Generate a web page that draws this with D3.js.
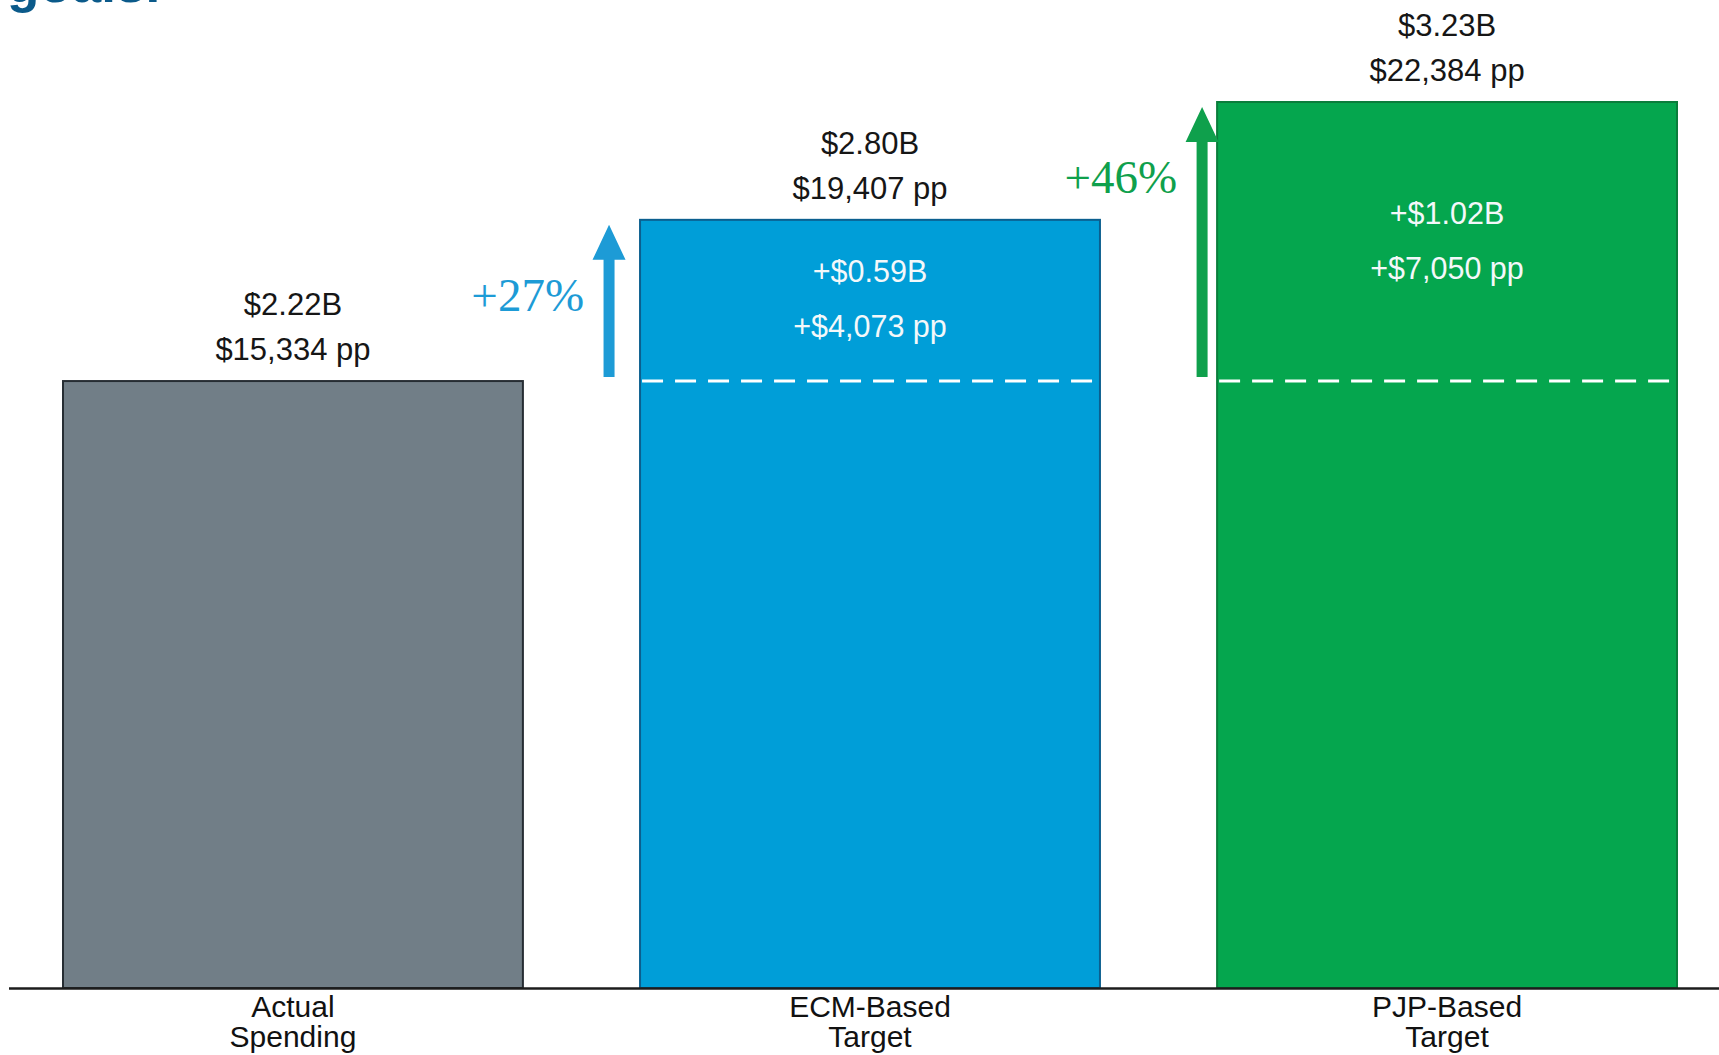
<!DOCTYPE html>
<html>
<head>
	<title>spending-targets</title>
	<script src="https://cdnjs.cloudflare.com/ajax/libs/d3/7.8.5/d3.min.js"></script>
	<style>
		body { margin:0; background:#fff; }
		svg { display:block; }
	</style>
</head>
<body>
	<svg width="1719" height="1055"></svg>
	<script type="text/javascript">

		// chart data
		var categories = ["Actual Spending", "ECM-Based Target", "PJP-Based Target"];
		var catLines = [["Actual", "Spending"], ["ECM-Based", "Target"], ["PJP-Based", "Target"]];
		var perPupil = [15334, 19407, 22384];
		var totalLabels = ["$2.22B", "$2.80B", "$3.23B"];
		var ppLabels = ["$15,334 pp", "$19,407 pp", "$22,384 pp"];
		var incTotalLabels = [null, "+$0.59B", "+$1.02B"];
		var incPpLabels = [null, "+$4,073 pp", "+$7,050 pp"];
		var pctLabels = [null, "+27%", "+46%"];

		var fills = ["#717e87", "#009ed8", "#05a64e"];
		var strokes = ["#262d33", "#0b5f8f", "#0a7d3b"];
		var accent = [null, "#1d9bd6", "#0fa04c"];
		var arrowGap = [0, 31, 15];

		var svg = d3.select("svg");
		var sans = "'Liberation Sans', Arial, sans-serif";
		var base = 988;

		var x = d3.scaleBand().domain(categories).range([63, 1677]).paddingInner(0.203).paddingOuter(0);
		var y = d3.scaleLinear().domain([0, d3.max(perPupil)]).range([base, 102]);

		var data = categories.map(function(c, i) {
			return {cat: c, i: i, pp: perPupil[i]};
		});

		// cut-off title
		svg.append("text")
			.attr("x", 7).attr("y", 2)
			.style("font-family", sans).style("font-weight", "bold")
			.style("font-size", "53px").style("fill", "#0b5a8a")
			.text("goals.");

		svg.selectAll("rect.bar")
			.data(data)
			.enter()
			.append("rect")
			.attr("class", "bar")
			.attr("x", function(d) {return x(d.cat)})
			.attr("y", function(d) {return y(d.pp)})
			.attr("width", x.bandwidth())
			.attr("height", function(d) {return base - y(d.pp)})
			.style("fill", function(d) {return fills[d.i]})
			.style("stroke", function(d) {return strokes[d.i]})
			.style("stroke-width", "2px")

		// dashed baseline inside target bars
		var targets = data.filter(function(d) {return d.i > 0});
		svg.selectAll("line.dash")
			.data(targets)
			.enter()
			.append("line")
			.attr("x1", function(d) {return x(d.cat) + 2})
			.attr("x2", function(d) {return x(d.cat) + x.bandwidth() - 1})
			.attr("y1", y(perPupil[0]))
			.attr("y2", y(perPupil[0]))
			.style("stroke", "#fff")
			.style("stroke-width", "3px")
			.style("stroke-dasharray", "21,12")

		// axis line
		svg.append("line")
			.attr("x1", 9).attr("x2", 1719)
			.attr("y1", base + 0.5).attr("y2", base + 0.5)
			.style("stroke", "#1c1c1c")
			.style("stroke-width", "2.5px")

		// value labels above bars
		var topLbl = svg.selectAll("g.toplbl").data(data).enter().append("g")
			.attr("class", "toplbl")
			.attr("transform", function(d) {return "translate(" + (x(d.cat) + x.bandwidth() / 2) + "," + y(d.pp) + ")"})
			.style("font-family", sans).style("font-size", "31px")
			.style("fill", "#161616").attr("text-anchor", "middle");
		topLbl.append("text").attr("y", -66).text(function(d) {return totalLabels[d.i]});
		topLbl.append("text").attr("y", -21).text(function(d) {return ppLabels[d.i]});

		// increment labels inside bars
		var inc = svg.selectAll("g.inc").data(targets).enter().append("g")
			.attr("class", "inc")
			.attr("transform", function(d) {
				var mid = (y(d.pp) + y(perPupil[0])) / 2;
				return "translate(" + (x(d.cat) + x.bandwidth() / 2) + "," + mid + ")";
			})
			.style("font-family", sans).style("font-size", "30.5px")
			.style("fill", "#f4f8fa").attr("text-anchor", "middle");
		inc.append("text").attr("y", -18).text(function(d) {return incTotalLabels[d.i]});
		inc.append("text").attr("y", 37).text(function(d) {return incPpLabels[d.i]});

		// arrows and percent change
		var arrow = svg.selectAll("g.arrow").data(targets).enter().append("g")
			.attr("class", "arrow")
			.attr("transform", function(d) {return "translate(" + (x(d.cat) - arrowGap[d.i]) + ",0)"});
		arrow.append("path")
			.attr("d", function(d) {
				var y0 = y(perPupil[0]) - 4, y1 = y(d.pp) + 5, hw = 5.5, hh = 16.5, hl = 35;
				return "M" + (-hw) + "," + y0 + "L" + hw + "," + y0 + "L" + hw + "," + (y1 + hl) +
					"L" + hh + "," + (y1 + hl) + "L0," + y1 + "L" + (-hh) + "," + (y1 + hl) +
					"L" + (-hw) + "," + (y1 + hl) + "Z";
			})
			.style("fill", function(d) {return accent[d.i]});
		arrow.append("text")
			.attr("x", -25)
			.attr("y", function(d) {return y(d.pp) + 91})
			.attr("text-anchor", "end")
			.style("font-family", "'Liberation Serif', 'Times New Roman', serif")
			.style("font-size", "47px")
			.style("fill", function(d) {return accent[d.i]})
			.text(function(d) {return pctLabels[d.i]});

		// category labels
		var cat = svg.selectAll("text.cat").data(data).enter().append("text")
			.attr("class", "cat")
			.attr("x", function(d) {return x(d.cat) + x.bandwidth() / 2})
			.attr("y", 1017)
			.attr("text-anchor", "middle")
			.style("font-family", sans).style("font-size", "30px").style("fill", "#111");
		cat.selectAll("tspan").data(function(d) {return catLines[d.i]}).enter().append("tspan")
			.attr("x", function() {return d3.select(this.parentNode).attr("x")})
			.attr("dy", function(d, j) {return j === 0 ? 0 : 30})
			.text(function(d) {return d});
	</script>
</body>
</html>
